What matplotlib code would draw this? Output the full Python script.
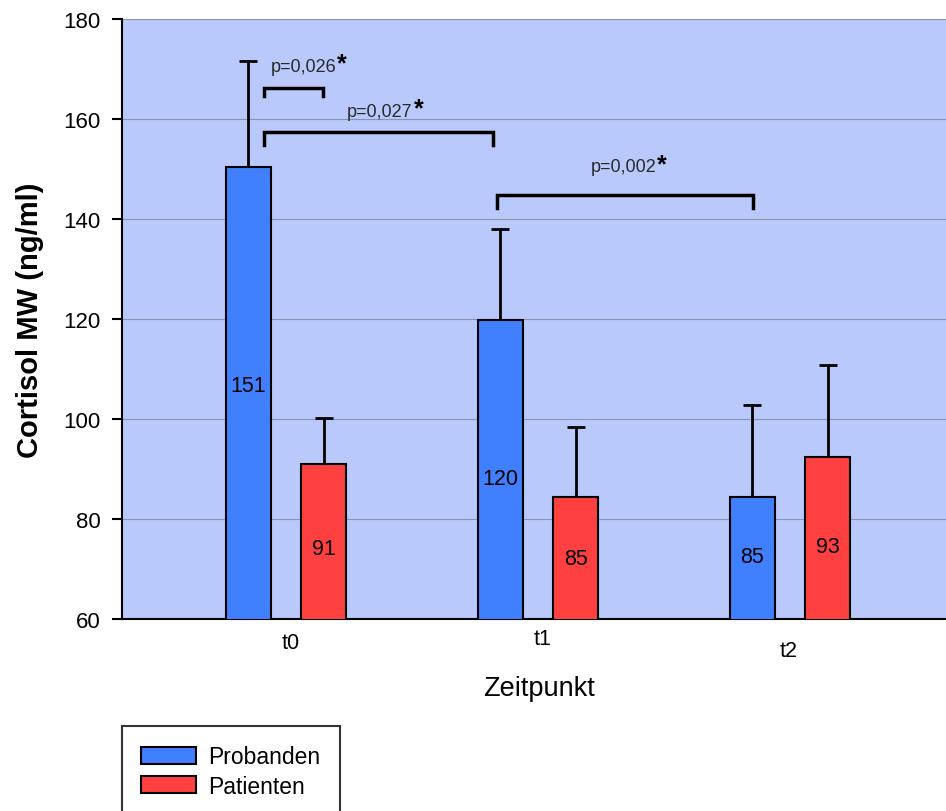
import numpy as np
import matplotlib
matplotlib.use('Agg')
import matplotlib.pyplot as plt
from matplotlib.patches import Patch

plt.rcParams['font.family'] = ['Liberation Sans', 'DejaVu Sans']

# Data
timepoints = ['t0', 't1', 't2']
probanden = [150.5, 119.8, 84.4]
probanden_err = [21.2, 18.2, 18.4]
patienten = [91.0, 84.4, 92.4]
patienten_err = [9.2, 14.0, 18.4]
probanden_labels = ['151', '120', '85']
patienten_labels = ['91', '85', '93']
probanden_label_y = [106.6, 88.0, 72.4]
patienten_label_y = [74.0, 72.0, 74.4]
# the x tick labels are staggered in the original (pixel offsets)
tick_dx = [5, 5, -1]
tick_dy = [-24, -20, -32]

# significance brackets: (x start, x end, y, text)
brackets = [(-0.087, 0.147, 166.2, 'p=0,026'),
            (-0.087, 0.821, 157.4, 'p=0,027'),
            (0.837, 1.853, 144.8, 'p=0,002')]
bracket_text_pos = [(0.07, 170.6), (0.373, 161.6), (1.34, 150.4)]

blue = '#4080ff'
red = '#ff4040'
bg = '#b9c9fb'

fig = plt.figure(figsize=(9.46, 8.12), dpi=100)
ax = fig.add_axes([122 / 946, 1 - 620 / 812, 1 - 122 / 946, 600 / 812])
ax.set_facecolor(bg)

x = np.arange(len(timepoints))
w = 0.179
off = 0.15

ax.set_axisbelow(True)
ax.yaxis.grid(True, color='#8a93b0', linewidth=0.8)

ax.bar(x - off, probanden, w, color=blue, edgecolor='black', linewidth=1.5, zorder=3)
ax.bar(x + off, patienten, w, color=red, edgecolor='black', linewidth=1.5, zorder=3)
ax.errorbar(x - off, probanden, yerr=[np.zeros(3), probanden_err], fmt='none',
            ecolor='black', elinewidth=2, capsize=6.5, capthick=2, zorder=2)
ax.errorbar(x + off, patienten, yerr=[np.zeros(3), patienten_err], fmt='none',
            ecolor='black', elinewidth=2, capsize=6.5, capthick=2, zorder=2)

for i in range(3):
    ax.text(x[i] - off, probanden_label_y[i], probanden_labels[i], ha='center', va='center',
            fontsize=15.5, zorder=4)
    ax.text(x[i] + off, patienten_label_y[i], patienten_labels[i], ha='center', va='center',
            fontsize=15.5, zorder=4)

# brackets
for (x0, x1, y, txt), (tx, ty) in zip(brackets, bracket_text_pos):
    leg = 2.6 if x1 - x0 > 0.3 else 1.6
    ax.plot([x0, x0, x1, x1], [y - leg, y, y, y - leg], color='black', linewidth=2.5,
            solid_joinstyle='miter', zorder=5)
    t = ax.text(tx, ty, txt, ha='center', va='center', fontsize=13, color='#2a2a2a')
    ax.annotate('*', xy=(1, 1), xycoords=t, xytext=(0.5, -4), textcoords='offset points',
                ha='left', va='center', fontsize=18, fontweight='bold')

ax.set_xlim(-0.651, 2.619)
ax.set_ylim(60, 180)
ax.set_yticks(np.arange(60, 181, 20))
ax.tick_params(axis='y', direction='out', length=7.2, width=1.5, labelsize=16, pad=8)
ax.set_xticks([])
for xi, lab, dx, dy in zip(x, timepoints, tick_dx, tick_dy):
    ax.annotate(lab, xy=(xi, 60), xycoords='data', xytext=(dx, dy), textcoords='offset pixels',
                ha='center', va='center', fontsize=15.5, annotation_clip=False)

ax.spines['top'].set_visible(False)
ax.spines['right'].set_visible(False)
ax.spines['left'].set_linewidth(1.5)
ax.spines['bottom'].set_linewidth(1.5)

ax.set_ylabel('Cortisol MW (ng/ml)', fontsize=21, fontweight='bold', labelpad=14)
fig.text(539 / 946, 1 - 689 / 812, 'Zeitpunkt', ha='center', va='center', fontsize=19.5)

handles = [Patch(facecolor=blue, edgecolor='black', linewidth=1.5),
           Patch(facecolor=red, edgecolor='black', linewidth=1.5)]
leg = fig.legend(handles, ['Probanden', 'Patienten'], loc='upper left',
                 bbox_to_anchor=(122 / 946, 1 - 727 / 812), fontsize=16.5, frameon=True,
                 fancybox=False, edgecolor='black', handlelength=2.36, handleheight=0.8,
                 borderpad=0.85, borderaxespad=0, labelspacing=0.27, handletextpad=0.57)
leg.get_frame().set_linewidth(1.5)

plt.savefig('out.png', dpi=100)
